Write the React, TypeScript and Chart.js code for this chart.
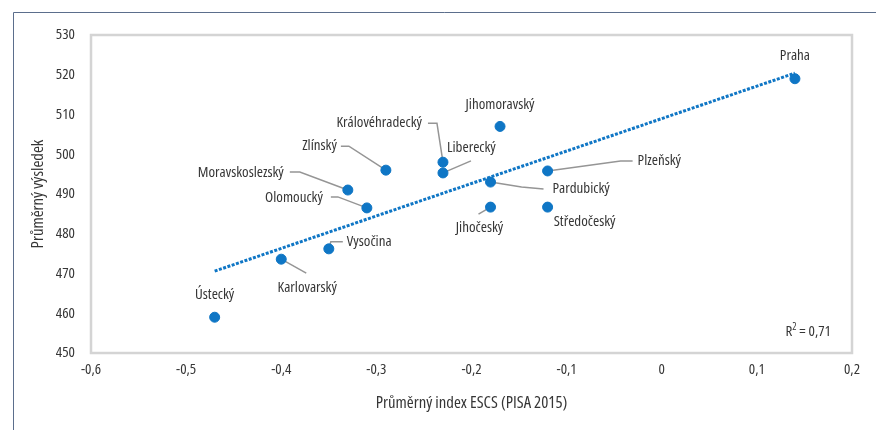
import React, { useEffect, useRef } from "react";
import { Chart, registerables } from "chart.js";

Chart.register(...registerables);

// ---- data ----
const regions = [
  "Praha", "Ústecký", "Karlovarský", "Vysočina", "Olomoucký", "Moravskoslezský",
  "Zlínský", "Královéhradecký", "Liberecký", "Jihomoravský", "Pardubický",
  "Plzeňský", "Jihočeský", "Středočeský",
];
const escs = [0.14, -0.47, -0.4, -0.35, -0.31, -0.33, -0.29, -0.23, -0.23, -0.17, -0.18, -0.12, -0.18, -0.12];
const score = [519, 459, 473.6, 476.2, 486.5, 491, 496, 498, 495.3, 507, 493, 495.8, 486.7, 486.7];
const trendX = [-0.47, 0.14];
const trendY = [470.6, 520.4];
const xTicks = [-0.6, -0.5, -0.4, -0.3, -0.2, -0.1, 0, 0.1, 0.2];
const yTicks = [450, 460, 470, 480, 490, 500, 510, 520, 530];
const xTitle = "Průměrný index ESCS (PISA 2015)";
const yTitle = "Průměrný výsledek";
const r2Text = "0,71";

// ---- label styling (pixel offsets relative to each point) ----
type LabelStyle = { dx: number; dy: number; align: CanvasTextAlign; leader?: number[][] };
const labelStyles: LabelStyle[] = [
  { dx: 0, dy: -23, align: "center" },
  { dx: 0, dy: -22, align: "center" },
  { dx: 26, dy: 29, align: "center", leader: [[0, 0], [25, 14]] },
  { dx: 18, dy: -7, align: "left", leader: [[0, 0], [2, -7], [14, -7]] },
  { dx: -44, dy: -10, align: "right", leader: [[0, 0], [-29, -11], [-36, -11]] },
  { dx: -64, dy: -17, align: "right", leader: [[0, 0], [-48, -18], [-58, -18]] },
  { dx: -49, dy: -24, align: "right", leader: [[0, 0], [-37, -24], [-45, -24]] },
  { dx: -21, dy: -39, align: "right", leader: [[0, 0], [-6, -39], [-15, -39]] },
  { dx: 4, dy: -25, align: "left", leader: [[0, 0], [28, -12]] },
  { dx: 0, dy: -22, align: "center" },
  { dx: 62, dy: 7, align: "left", leader: [[0, 0], [31, 5], [53, 7]] },
  { dx: 90, dy: -10, align: "left", leader: [[0, 0], [73, -10], [85, -10]] },
  { dx: -11, dy: 21, align: "center", leader: [[0, 0], [-12, 7]] },
  { dx: 37, dy: 15, align: "center" },
];

const FAMILY = "'Open Sans', 'Roboto Condensed', sans-serif";
const STRETCH = "condensed";
const TEXT = "#363636";
const BLUE = "#0f76c5";

const fmt = (v: number) => {
  const r = Math.round(v * 10) / 10;
  return String(r).replace(".", ",");
};

const decorPlugin = {
  id: "decor",
  beforeDraw(chart: any) {
    const { ctx, chartArea: a } = chart;
    ctx.save();
    ctx.fillStyle = "#ffffff";
    ctx.fillRect(0, 0, chart.width, chart.height);
    ctx.strokeStyle = "#5b6e8c";
    ctx.lineWidth = 1;
    ctx.beginPath();
    ctx.moveTo(13.5, chart.height);
    ctx.lineTo(13.5, 12.5);
    ctx.lineTo(chart.width, 12.5);
    ctx.stroke();
    ctx.strokeStyle = "#d4d4d4";
    ctx.lineWidth = 2.5;
    ctx.strokeRect(a.left, a.top, a.right - a.left, a.bottom - a.top);
    ctx.restore();
  },
  beforeDatasetsDraw(chart: any) {
    const { ctx, scales } = chart;
    ctx.save();
    ctx.strokeStyle = "#959595";
    ctx.lineWidth = 1.5;
    regions.forEach((_, i) => {
      const st = labelStyles[i];
      if (!st.leader) return;
      const px = scales.x.getPixelForValue(escs[i]);
      const py = scales.y.getPixelForValue(score[i]);
      ctx.beginPath();
      st.leader.forEach(([dx, dy], k) => {
        if (k === 0) ctx.moveTo(px + dx, py + dy);
        else ctx.lineTo(px + dx, py + dy);
      });
      ctx.stroke();
    });
    ctx.restore();
  },
  afterDatasetsDraw(chart: any) {
    const { ctx, scales, chartArea: a } = chart;
    const f = (s: number) => `${STRETCH} ${s}px ${FAMILY}`;
    ctx.save();
    ctx.fillStyle = TEXT;
    ctx.font = f(15);
    ctx.textBaseline = "middle";
    regions.forEach((name, i) => {
      const st = labelStyles[i];
      const px = scales.x.getPixelForValue(escs[i]);
      const py = scales.y.getPixelForValue(score[i]);
      ctx.textAlign = st.align;
      ctx.fillText(name, px + st.dx, py + st.dy);
    });
    const rest = " = " + r2Text;
    ctx.textAlign = "left";
    const wRest = ctx.measureText(rest).width;
    const wR = ctx.measureText("R").width;
    ctx.font = f(10);
    const w2 = ctx.measureText("2").width;
    const xEnd = a.right - 21;
    const x0 = xEnd - wRest - w2 - wR;
    const y = a.bottom - 21;
    ctx.font = f(15);
    ctx.fillText("R", x0, y);
    ctx.font = f(10);
    ctx.fillText("2", x0 + wR, y - 5);
    ctx.font = f(15);
    ctx.fillText(rest, x0 + wR + w2, y);
    ctx.restore();
  },
};

export default function App() {
  const ref = useRef<HTMLCanvasElement>(null);
  useEffect(() => {
    if (!ref.current) return;
    const tickFont = { family: FAMILY, size: 15, weight: STRETCH as any };
    const titleFont = { family: FAMILY, size: 16.7, weight: STRETCH as any };
    const chart = new Chart(ref.current, {
      type: "scatter",
      data: {
        datasets: [
          {
            type: "line",
            label: "trend",
            data: trendX.map((x, i) => ({ x, y: trendY[i] })),
            borderColor: BLUE,
            borderWidth: 3,
            borderDash: [3, 1.5],
            pointRadius: 0,
            fill: false,
          } as any,
          {
            label: "kraje",
            data: escs.map((x, i) => ({ x, y: score[i] })),
            backgroundColor: BLUE,
            borderColor: BLUE,
            pointRadius: 5,
            pointHoverRadius: 5,
          },
        ],
      },
      options: {
        responsive: false,
        animation: false,
        events: [],
        layout: { padding: { left: 0, top: 35, right: 24, bottom: 0 } },
        plugins: { legend: { display: false }, tooltip: { enabled: false } },
        scales: {
          x: {
            type: "linear",
            min: -0.6,
            max: 0.2,
            afterBuildTicks: (s: any) => { s.ticks = xTicks.map((v) => ({ value: v })); },
            afterFit: (s: any) => { s.height = 77; },
            grid: { display: false, drawTicks: false },
            border: { display: false },
            ticks: {
              padding: 8,
              color: TEXT,
              font: tickFont,
              maxRotation: 0,
              callback: (v: any) => fmt(Number(v)),
            },
            title: {
              display: true,
              text: xTitle,
              color: TEXT,
              font: titleFont,
              padding: { top: 0, bottom: 17 },
            },
          },
          y: {
            type: "linear",
            min: 450,
            max: 530,
            afterBuildTicks: (s: any) => { s.ticks = yTicks.map((v) => ({ value: v })); },
            afterFit: (s: any) => { s.width = 91; },
            grid: { display: false, drawTicks: false },
            border: { display: false },
            ticks: {
              padding: 16,
              color: TEXT,
              font: tickFont,
              callback: (v: any) => String(v),
            },
            title: {
              display: true,
              text: yTitle,
              color: TEXT,
              font: titleFont,
              padding: { top: 28, bottom: 0 },
            },
          },
        },
      },
      plugins: [decorPlugin],
    });
    return () => chart.destroy();
  }, []);
  return (
    <div style={{ position: "absolute", left: 0, top: 0, width: 876, height: 430 }}>
      <canvas ref={ref} width={876} height={430} style={{ width: 876, height: 430, display: "block" }} />
    </div>
  );
}
